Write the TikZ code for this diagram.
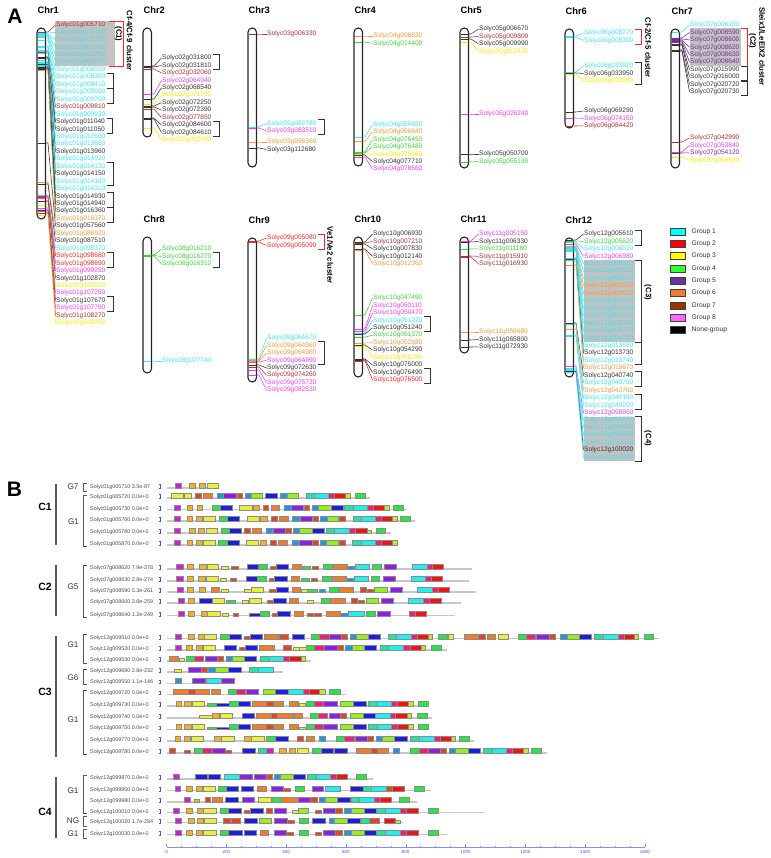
\documentclass[tikz,border=0pt]{standalone}
\usepackage{fontspec}
\setmainfont{Liberation Sans}
\usetikzlibrary{arrows.meta}
% group colours (panel A labels and bands)
\definecolor{Lc}{HTML}{3EE3F2}
\definecolor{Lr}{HTML}{F0282D}
\definecolor{Ly}{HTML}{F0EE00}
\definecolor{Lg}{HTML}{3CD23C}
\definecolor{Lp}{HTML}{7A2C98}
\definecolor{Lo}{HTML}{F5963C}
\definecolor{Lb}{HTML}{A83232}
\definecolor{Lm}{HTML}{EE3CEE}
\definecolor{Lk}{HTML}{333333}
% legend fills
\definecolor{kC}{HTML}{00FFFF}
\definecolor{kR}{HTML}{FF0000}
\definecolor{kY}{HTML}{FFFF00}
\definecolor{kG}{HTML}{33FF33}
\definecolor{kP}{HTML}{7030A0}
\definecolor{kO}{HTML}{F07D32}
\definecolor{kB}{HTML}{993300}
\definecolor{kM}{HTML}{FF66FF}
\definecolor{kK}{HTML}{000000}
% motif colours (panel B)
\definecolor{mMg}{HTML}{D21ED2}
\definecolor{mGo}{HTML}{F2B41E}
\definecolor{mYe}{HTML}{E8F03C}
\definecolor{mRo}{HTML}{E2461E}
\definecolor{mOr}{HTML}{F07D28}
\definecolor{mSb}{HTML}{1E96E1}
\definecolor{mPu}{HTML}{8C1EE6}
\definecolor{mBl}{HTML}{1E1EDC}
\definecolor{mLg}{HTML}{96F01E}
\definecolor{mGr}{HTML}{28E646}
\definecolor{mCy}{HTML}{1EF0F0}
\definecolor{mTe}{HTML}{1EE6A5}
\definecolor{mPk}{HTML}{F01E78}
\definecolor{mRe}{HTML}{F01414}
\definecolor{mYg}{HTML}{C8E628}
\def\mh{5}
\tikzset{
  chrbox/.style={draw=black!85, line width=1.1pt, fill=white, rounded corners=4.2pt},
  band/.style={line width=0.9pt},
  link/.style={line width=0.55pt},
  gene/.style={font=\fontsize{6.6}{7}\selectfont, anchor=west, inner sep=0.5pt},
  chrtitle/.style={font=\fontsize{9.3}{10}\selectfont\bfseries, anchor=west, inner sep=0pt},
  brk/.style={line width=0.8pt},
  hilite/.style={fill=black!24},
  clust/.style={font=\fontsize{7.8}{8}\selectfont\bfseries, rotate=-90, inner sep=0pt},
  panel/.style={font=\fontsize{21}{22}\selectfont\bfseries, inner sep=0pt},
  legbox/.style={draw=black!75, line width=0.7pt, minimum width=15pt, minimum height=7pt, inner sep=0pt},
  legtext/.style={font=\fontsize{6.7}{7}\selectfont, text=black!80, anchor=west, inner sep=0pt},
  pname/.style={font=\fontsize{5.4}{6}\selectfont, text=black!70, anchor=west, inner sep=0pt},
  strand/.style={draw=blue!70, line width=0.5pt, {Bar[width=1.6pt]}-{Bar[width=1.6pt]}},
  pline/.style={draw=black!22, line width=1.1pt},
  motif/.style={draw=black!45, line width=0.35pt},
  halfbox/.style={/utils/exec={\def\mh{2.6}}},
  mg/.style={fill=mMg}, go/.style={fill=mGo}, ye/.style={fill=mYe},
  ro/.style={fill=mRo}, or/.style={fill=mOr}, sb/.style={fill=mSb},
  pu/.style={fill=mPu}, bl/.style={fill=mBl}, lg/.style={fill=mLg},
  gr/.style={fill=mGr}, cy/.style={fill=mCy}, te/.style={fill=mTe},
  pk/.style={fill=mPk}, re/.style={fill=mRe}, yg/.style={fill=mYg},
  yeS/.style={ye,halfbox}, roS/.style={ro,halfbox}, goS/.style={go,halfbox},
  grS/.style={gr,halfbox}, sbS/.style={sb,halfbox}, blS/.style={bl,halfbox},
  ygS/.style={yg,halfbox},
  clu/.style={font=\fontsize{10.5}{11}\selectfont\bfseries, inner sep=0pt},
  cline/.style={draw=black!65, line width=1.4pt},
  grp/.style={font=\fontsize{8.2}{9}\selectfont, text=black!80, inner sep=0pt},
  gbrk/.style={draw=black!65, line width=0.7pt},
  ruler/.style={draw=blue!45, line width=0.4pt},
  rlab/.style={font=\fontsize{4.5}{5}\selectfont, text=blue!70, inner sep=0pt}
}
% chromosome: number, left x, top y, bottom y
\newcommand\chrbar[4]{%
  \node[chrtitle] (chr#1) at (#2+0.5,#3-17.5) {Chr#1};
  \path[chrbox] (#2,#3) rectangle (#2+8.5,#4);}
% genes: bar left x, first label y, list band y/id/colour
\newcommand\genes[3]{%
  \foreach \by/\g/\col [count=\i from 0] in {#3}{%
    \pgfmathsetmacro\ly{#2+7.45*\i}
    \draw[band,color=L\col] (#1+0.9,\by) -- (#1+7.6,\by);
    \coordinate (b\g) at (#1+8.5,\by);
    \node[gene,text=L\col] (s\g) at (#1+18.5,\ly) {Solyc\g};
    \draw[link,color=L\col] (b\g) -- ++(2.5,0) -- (s\g.west);
  }}
\newcommand\pairbrk[3][Lk]{\draw[brk,draw=#1] ([xshift=1pt]s#2.north east) -- ++(6,0) |- ([xshift=1pt]s#3.south east);}
% motif row: id, base y, label, end x, motifs
\newcommand\prow[5]{%
  \node[pname] (r#1) at (90,#2-1) {#3};
  \draw[strand] (160,#2-3.8) -- (160,#2+0.4);
  \draw[pline] (167,#2) -- (#4,#2);
  \foreach \xa/\xb/\mc in {#5}{\draw[motif,\mc] (\xa,#2) rectangle (\xb,#2-\mh);}}
\newcommand\gbr[2]{\draw[gbrk] (86.5,#1) -- (83,#1) -- (83,#2) -- (86.5,#2);}

\begin{document}
\begin{tikzpicture}[x=1pt,y=-1pt]
\useasboundingbox (0,0) rectangle (770,858);
\node[panel] (pA) at (15,16.5) {A};

% clusters shaded
\fill[hilite] (55,21.3) rectangle (115,66);
\fill[hilite] (689.5,28.3) rectangle (741,65.8);
\fill[hilite] (583.5,260) rectangle (635,342);
\fill[hilite] (583.5,416.5) rectangle (635,461.3);

\chrbar{1}{37}{28}{219}
\chrbar{2}{143}{28}{137}
\chrbar{3}{248}{28}{167}
\chrbar{4}{354}{28}{166}
\chrbar{5}{460}{28}{168}
\chrbar{6}{565}{29}{128}
\chrbar{7}{671}{29}{168}
\chrbar{8}{143}{237}{373}
\chrbar{9}{248}{238}{382}
\chrbar{10}{354}{237}{377}
\chrbar{11}{460}{237}{353}
\chrbar{12}{565}{238}{377}

% Chr1
\genes{37}{25}{32/01g005710/b,33/01g005720/c,34/01g005730/c,35/01g005760/c,36/01g005780/c,37/01g005870/c,
  40/01g006550/c,46/01g008390/c,47/01g008410/c,50/01g009690/c,51/01g009700/c,52/01g009810/b,53/01g009930/c,
  57/01g011040/k,58/01g011050/k,60/01g012690/c,62/01g013880/c,63/01g013960/k,63.5/01g014020/c,64/01g014130/c,
  64.5/01g014150/k,65/01g014160/c,66/01g014310/c,67/01g014930/k,68/01g014940/k,69/01g016360/k,70/01g016370/o,
  143/01g057560/k,182/01g086920/o,184/01g087510/k,195/01g098370/c,196/01g098680/r,197/01g098690/r,
  198/01g099250/m,201/01g102870/k,205/01g106500/y,208/01g107250/m,210/01g107670/k,211/01g107790/m,
  213/01g108270/b,215/01g108850/y}
% Chr2
\genes{143}{58}{66/02g031800/k,67/02g031810/k,69/02g032060/b,94/02g064940/m,99/02g068540/k,104/02g071790/y,
  106/02g072250/k,107/02g072390/k,109/02g077850/b,118/02g084600/k,119/02g084610/k,128/02g092040/y}
% Chr3
\genes{248}{34}{34/03g006330/b}
\genes{248}{123.3}{127/03g082780/c,128/03g083510/m}
\genes{248}{142}{142/03g098360/o,148/03g112680/k}
% Chr4
\genes{354}{36}{36/04g008830/o,42/04g014400/g}
\genes{354}{124.5}{137/04g054450/c,141/04g056640/o,152/04g076450/g,153/04g076480/g,154/04g076960/y,
  155/04g077710/k,157/04g078560/m}
% Chr5
\genes{460}{29}{34/05g006670/k,37/05g009800/b,39/05g009990/k,42/05g012430/y}
\genes{460}{114}{114/05g026240/m}
\genes{460}{154}{154/05g050700/k,162/05g055190/g}
% Chr6
\genes{565}{33}{36/06g008270/c,37/06g008300/c}
\genes{565}{66}{72/06g033920/c,73/06g033950/k,74/06g033960/y}
\genes{565}{111}{112/06g069290/k,118/06g074150/m,126/06g084420/b}
% Chr7
\genes{671}{25}{32/07g006150/c,38/07g008590/p,39/07g008600/p,40/07g008620/p,41/07g008630/p,42/07g008640/p,
  44/07g015990/k,45/07g016000/k,50/07g020720/k,51/07g020730/k}
\genes{671}{138}{142/07g042990/b,152/07g053840/m,153/07g054120/p,157/07g056820/y}
% Chr8
\genes{143}{249}{255/08g016210/g,255.5/08g016270/g,256/08g016310/g}
\genes{143}{361}{361/08g077740/c}
% Chr9
\genes{248}{238}{241/09g005080/r,242/09g005090/r}
\genes{248}{338}{359/09g064670/c,360/09g064960/o,361/09g064980/o,362/09g064990/m,365/09g072630/k,
  367/09g074260/b,370/09g075730/m,375/09g082530/m}
% Chr10
\genes{354}{234}{242/10g006930/k,243/10g007210/b,244/10g007830/k,249/10g012140/k,250/10g012360/o}
\genes{354}{298}{315/10g047490/g,329/10g050110/m,331/10g050470/m,333/10g051220/c,334/10g051240/k,
  337/10g051370/g,343/10g052880/o,345/10g054290/k,346/10g055290/y,359/10g075000/k,360/10g076490/k,
  361/10g076500/r}
% Chr11
\genes{460}{234}{241/11g005150/m,242/11g006330/k,249/11g011180/g,256/11g015910/b,257/11g016930/b}
\genes{460}{332}{332/11g056680/o,340/11g065800/k,347/11g072930/k}
% Chr12
\genes{565}{234}{240/12g005610/k,241/12g005620/g,242/12g006020/c,244/12g006980/m,246/12g009510/c,
  246.5/12g009520/c,247/12g009530/c,247.5/12g009550/o,248/12g009690/o,248.5/12g009720/c,249/12g009730/c,
  249.5/12g009740/c,250/12g009750/c,250.5/12g009770/c,251/12g009780/c,258/12g013680/c,259/12g013730/k,
  260/12g013740/c,265/12g019670/o,323/12g040740/k,324/12g040750/c,329/12g042760/o,335/12g049190/c,
  336/12g049200/c,366/12g058950/m,368/12g099870/c,369/12g099950/c,370/12g099980/c,371/12g100010/c,
  371.5/12g100020/k,372/12g100030/c}

% tandem pairs
\pairbrk{01g008390}{01g008410} \pairbrk{01g009690}{01g009700}
\pairbrk{01g011040}{01g011050} \pairbrk{01g014130}{01g014160}
\pairbrk{01g014930}{01g014940} \pairbrk{01g016360}{01g016370}
\pairbrk{01g098680}{01g098690} \pairbrk{01g107670}{01g107790}
\pairbrk{02g031800}{02g031810} \pairbrk{02g084600}{02g084610}
\pairbrk{03g082780}{03g083510}
\pairbrk[Lr]{06g008270}{06g008300} \pairbrk{06g033920}{06g033960}
\pairbrk[Lr]{07g008590}{07g008640} \pairbrk{07g015990}{07g016000}
\pairbrk{07g020720}{07g020730}
\pairbrk{08g016270}{08g016310}
\pairbrk[Lr]{09g005080}{09g005090} \pairbrk{09g064960}{09g064990}
\pairbrk{10g051220}{10g051240} \pairbrk{10g076490}{10g076500}
\pairbrk{12g005610}{12g005620} \pairbrk{12g009510}{12g009780}
\pairbrk{12g013680}{12g013740} \pairbrk{12g040740}{12g040750}
\pairbrk{12g049190}{12g049200} \pairbrk{12g099870}{12g100030}
\draw[brk,draw=Lr] ([xshift=3pt]s01g005710.north east) -- ++(14,0) |- ([xshift=3pt]s01g005870.south east);

% cluster names
\node[clust] (cc1) at (118.5,34) {(C1)};
\node[clust] (cl1) at (129.5,40.5) {Cf-4/Cf-9 cluster};
\node[clust] (cl2) at (648,47.5) {Cf-2/Cf-5 cluster};
\node[clust] (cc2) at (752.5,41) {(C2)};
\node[clust] (cl3) at (762,46.5) {Sleix1/LeEIX2 cluster};
\node[clust] (cl4) at (330,255) {Ve1/Ve2 cluster};
\node[clust] (cc3) at (648,292.5) {(C3)};
\node[clust] (cc4) at (648,438.5) {(C4)};

% legend
\foreach \kc/\kt [count=\i from 0] in {kC/Group 1,kR/Group 2,kY/Group 3,kG/Group 4,kP/Group 5,
  kO/Group 6,kB/Group 7,kM/Group 8,kK/None-group}{%
  \pgfmathsetmacro\yy{231.7+12.32*\i}
  \node[legbox,fill=\kc] (key\i) at (678.3,\yy) {};
  \node[legtext] (lab\i) at (691.5,\yy) {\kt};
}

% ---------------- panel B ----------------
\node[panel] (pB) at (14.5,489) {B};

\node[clu] (C1) at (45,507) {C1}; \draw[cline] (56,484) -- (56,545);
\node[clu] (C2) at (45,587) {C2}; \draw[cline] (56,565) -- (56,616);
\node[clu] (C3) at (45,692) {C3}; \draw[cline] (56,636) -- (56,757);
\node[clu] (C4) at (45,812) {C4}; \draw[cline] (56,777) -- (56,838);

\node[grp] (g1) at (73,487) {G7}; \gbr{483.5}{491}
\node[grp] (g2) at (73.5,521.7) {G1}; \gbr{495}{546.5}
\node[grp] (g3) at (73,587) {G5}; \gbr{565}{617}
\node[grp] (g4) at (73,645) {G1}; \gbr{634}{663}
\node[grp] (g5) at (73,678) {G6}; \gbr{669}{684}
\node[grp] (g6) at (73,720) {G1}; \gbr{690}{754}
\node[grp] (g7) at (73,791) {G1}; \gbr{775}{813}
\node[grp] (g8) at (73,821) {NG}; \gbr{816}{826}
\node[grp] (g9) at (73,834) {G1}; \gbr{829}{838}

\prow{1}{488}{Solyc01g005710 3.5e-87}{218}{175/181/mg,189/195/go,199/205/go,207/218/ye}
\prow{2}{498}{Solyc01g005720 0.0e+0}{370}{171/183/ye,184/191/ye,195/201/ro,203/212/or,217/223/sb,223/236/pu,
  237/242/ro,245/250/sb,251/262/lg,265/277/bl,280/286/sb,287/298/lg,306/314/te,314/328/cy,328/334/pk,334/345/re,
  345/350/yg,355/365/gr}
\prow{3}{509.7}{Solyc01g005730 0.0e+0}{407}{174/180/mg,187/192/go,197/202/go,212/220/gr,220/232/bl,239/252/ye,
  253/259/go,263/268/ro,271/279/or,284/291/sb,291/303/pu,304/309/ro,312/318/sb,318/331/lg,331/343/bl,344/353/te,
  353/367/cy,367/373/pk,373/384/re,384/389/yg,393/403/gr}
\prow{4}{521}{Solyc01g005760 0.0e+0}{415}{174/180/mg,187/192/go,196/202/go,203/215/ye,219/227/gr,227/239/bl,
  247/259/ye,260/267/go,271/277/ro,279/288/or,292/299/sb,300/312/pu,313/318/ro,320/327/sb,327/338/lg,339/345/ro,
  353/361/te,361/375/cy,375/381/pk,381/392/re,392/397/yg,400/410/gr}
\prow{5}{533}{Solyc01g005780 0.0e+0}{391}{174/180/mg,189/195/go,198/204/go,206/217/ye,221/229/gr,229/241/bl,
  244/250/ro,252/261/or,266/272/sb,273/285/pu,285/291/ro,293/299/sb,299/312/lg,312/324/bl,326/334/te,334/349/cy,
  349/355/pk,355/367/re,367/371/ygS,376/385/gr}
\prow{6}{545}{Solyc01g005870 0.0e+0}{398}{174/180/mg,187/192/go,196/202/go,203/215/ye,218/227/gr,227/239/bl,
  246/258/ye,260/266/go,270/276/ro,278/287/or,292/298/sb,299/312/pu,312/318/ro,320/326/sb,326/338/lg,339/345/ro,
  352/361/te,361/375/cy,375/381/pk,381/392/re,392/397/yg}

\prow{7}{569}{Solyc07g008620 7.9e-278}{472}{176/183/mg,187/193/go,199/206/go,207/218/ye,221/228/yeS,231/238/roS,
  247/258/bl,259/267/gr,270/276/roS,276/288/bl,292/301/or,302/310/grS,312/318/roS,323/332/gr,333/347/or,
  347/354/sbS,355/369/cy,372/381/gr,384/396/pu,412/427/cy,427/432/pk,432/443/re}
\prow{8}{581}{Solyc07g008630 2.8e-274}{469}{176/183/mg,187/193/go,198/205/go,206/218/ye,220/226/yeS,230/236/roS,
  246/257/bl,257/266/gr,269/274/roS,274/287/bl,291/299/or,301/309/grS,311/317/roS,322/331/gr,332/346/or,
  346/353/sbS,354/368/cy,371/379/gr,383/395/pu,411/425/cy,425/431/pk,431/442/re}
\prow{9}{592}{Solyc07g008590 5.3e-261}{476}{177/183/mg,187/193/go,199/205/go,211/219/or,221/228/yeS,244/251/yeS,
  251/263/ye,269/276/roS,276/288/bl,292/300/or,301/307/yeS,307/317/grS,319/325/sbS,329/338/gr,339/353/or,
  360/366/ro,367/373/roS,374/387/lg,390/402/pu,417/432/cy,432/438/pk,438/449/re}
\prow{10}{603}{Solyc07g008600 3.6e-259}{461}{178/184/mg,188/194/go,199/212/bl,212/224/ye,226/235/grS,242/248/yeS,
  249/261/ye,267/273/roS,273/286/bl,289/298/or,307/313/yeS,321/329/gr,330/345/or,351/357/ro,358/364/roS,
  366/378/lg,381/393/pu,408/423/cy,423/429/pk,429/441/re}
\prow{11}{615.7}{Solyc07g008640 1.2e-249}{455}{178/184/mg,188/194/go,201/207/go,207/220/ye,222/228/yeS,233/238/roS,
  249/260/blS,260/269/gr,272/277/roS,277/290/bl,294/303/or,307/313/roS,314/321/roS,326/340/or,340/348/sbS,
  348/364/cy,366/375/gr,377/390/pu,409/415/pk,415/426/re}

\prow{12}{638.7}{Solyc12g009510 0.0e+0}{659}{175/181/mg,188/194/go,198/204/go,204/216/ye,220/229/gr,229/241/bl,
  244/250/roS,250/262/bl,264/278/or,279/288/ro,292/304/bl,311/319/gr,319/329/pk,329/341/pu,341/347/ro,350/356/sb,
  356/368/lg,368/380/bl,388/396/te,396/411/cy,411/417/pk,417/428/re,428/432/yg,438/447/gr,448/453/ye,464/478/or,
  478/485/ro,487/495/or,498/508/ye,518/526/gr,526/535/pk,536/549/pu,549/555/ro,560/567/sb,567/579/lg,579/591/bl,
  594/603/te,603/618/cy,618/624/pk,624/634/re,634/638/yg,644/653/gr}
\prow{13}{650}{Solyc12g009520 0.0e+0}{447}{175/181/mg,186/192/go,196/202/go,203/215/ye,224/236/bl,239/245/roS,
  245/257/bl,259/274/or,283/291/ro,293/299/yeS,299/306/yeS,306/314/gr,314/324/pk,324/337/pu,337/343/ro,345/352/sb,
  352/364/lg,364/376/bl,380/388/te,388/403/cy,403/410/pk,410/421/re,421/425/yg,431/441/gr}
\prow{14}{661}{Solyc12g009530 0.0e+0}{311}{169/178/or,179/184/yeS,186/194/gr,194/203/pk,205/217/pu,217/223/ro,
  226/232/sb,232/244/lg,244/256/bl,260/269/te,269/283/cy,283/289/pk,289/301/re,301/305/yg}
\prow{15}{672}{Solyc12g009690 2.8e-232}{283}{174/181/yeS,188/201/pu,201/207/ro,208/215/sb,215/228/lg,228/241/bl,
  249/258/te,258/273/cy}
\prow{16}{683.5}{Solyc12g009550 1.1e-146}{234}{175/181/sb,192/205/pu,206/221/cy,221/234/pu}
\prow{17}{694.5}{Solyc12g009720 0.0e+0}{346}{173/188/or,188/195/ro,195/209/or,211/220/or,228/236/gr,236/245/pk,
  246/258/pu,263/275/lg,275/288/bl,288/303/cy,303/309/pk,309/319/re,319/325/yg,329/340/gr}
\prow{18}{706}{Solyc12g009730 0.0e+0}{429}{176/181/go,184/191/go,192/204/ye,207/216/grS,216/229/blS,229/238/gr,
  238/250/bl,252/266/or,266/273/ro,274/283/or,289/298/or,299/305/yeS,306/314/gr,314/323/pk,323/337/pu,340/353/lg,
  353/366/bl,368/377/te,377/391/cy,391/397/pk,397/408/re,408/413/yg,418/428/gr}
\prow{19}{718}{Solyc12g009740 0.0e+0}{432}{199/212/yeS,212/219/go,220/232/ye,242/254/bl,256/271/or,271/277/ro,
  277/293/or,294/302/or,310/318/gr,318/327/pk,329/340/pu,340/346/ro,350/363/lg,363/375/bl,375/390/cy,390/395/pk,
  395/407/re,407/411/yg,417/427/gr}
\prow{20}{729.5}{Solyc12g009750 0.0e+0}{429}{176/181/go,184/191/go,192/204/ye,207/216/grS,216/229/blS,229/238/gr,
  238/250/bl,252/266/or,266/273/ro,274/283/or,289/298/or,299/305/yeS,306/314/gr,314/323/pk,323/337/pu,340/353/lg,
  353/366/bl,368/377/te,377/391/cy,391/397/pk,397/408/re,408/413/yg,418/428/gr}
\prow{21}{741}{Solyc12g009770 0.0e+0}{474}{175/180/go,184/190/go,191/203/ye,214/221/go,221/234/ye,244/251/go,
  251/264/ye,266/275/gr,275/288/bl,297/303/ro,306/314/or,319/325/sb,336/344/gr,344/354/pk,355/367/pu,367/373/ro,
  376/382/sb,382/394/lg,394/407/bl,410/419/te,419/434/cy,434/440/pk,440/451/re,451/455/yg,459/469/gr}
\prow{22}{753}{Solyc12g009780 0.0e+0}{547}{169/175/ro,184/190/roS,194/202/gr,202/212/pk,212/225/pu,225/231/roS,
  242/255/bl,258/266/te,266/273/mg,279/286/go,289/295/go,297/308/ye,312/321/gr,321/333/bl,334/347/bl,356/371/or,
  371/377/ro,378/388/or,393/399/sb,410/419/gr,419/428/pk,428/440/pu,440/446/ro,449/455/sb,455/468/lg,468/480/bl,
  483/492/te,492/506/cy,506/512/pk,512/523/re,523/528/yg,531/541/gr}

\prow{23}{779}{Solyc12g099870 0.0e+0}{373}{173/179/mg,195/207/bl,208/220/bl,224/239/cy,239/252/pu,254/266/pu,
  266/272/ro,274/280/sb,280/293/lg,293/305/bl,307/316/te,316/330/cy,330/336/pk,336/347/re,356/366/gr}
\prow{24}{790.7}{Solyc12g099950 0.0e+0}{431}{175/180/mg,186/192/go,196/202/go,203/215/ye,218/226/gr,226/238/bl,
  241/253/bl,257/266/or,271/283/pu,283/290/roS,295/304/gr,312/323/pu,325/340/cy,350/363/bl,363/371/te,371/386/cy,
  386/392/ro,392/404/re,414/424/gr}
\prow{25}{802}{Solyc12g099980 0.0e+0}{417}{184/190/mg,194/199/goS,205/210/ro,212/222/or,225/238/bl,242/254/pu,
  258/271/ye,272/281/gr,281/297/or,298/310/pu,310/317/ro,319/325/sb,325/337/lg,337/350/bl,351/359/te,359/374/cy,
  374/380/pk,380/391/re,399/409/gr}
\prow{26}{812.7}{Solyc12g100010 0.0e+0}{484}{173/179/mg,186/192/go,197/203/go,203/216/ye,220/228/gr,228/241/bl,
  244/250/roS,250/263/bl,266/272/ro,274/286/pu,292/298/yeS,298/308/lg,315/321/roS,323/335/pu,335/342/ro,344/351/sb,
  351/364/lg,364/376/bl,376/385/te,385/400/cy,400/406/pk,406/418/re,428/438/gr}
\prow{27}{822.7}{Solyc12g100020 1.7e-284}{403}{175/181/mg,188/194/go,197/203/go,204/216/ye,223/230/ro,231/240/ro,
  244/257/bl,259/271/lg,274/287/pu,287/294/roS,299/308/gr,312/325/bl,329/334/sb,334/347/lg,347/360/bl,361/369/te,
  369/379/ro,384/395/re,395/400/ygS}
\prow{28}{834.7}{Solyc12g100030 0.0e+0}{447}{175/181/mg,186/192/go,196/202/go,203/216/ye,220/228/gr,228/242/bl,
  244/256/bl,260/268/or,274/286/pu,286/293/roS,299/308/gr,315/321/roS,323/335/pu,335/342/ro,344/351/sb,351/364/lg,
  364/376/bl,376/385/te,385/400/cy,400/406/pk,406/418/re,428/438/gr}

% length scale
\draw[ruler] (166.5,847) -- (645,847);
\foreach \v in {50,100,...,1600}{\draw[ruler] (166.5+0.299*\v,847) -- ++(0,-1.2);}
\foreach \v in {0,200,...,1600}{%
  \draw[ruler] (166.5+0.299*\v,847) -- ++(0,-2.6);
  \node[rlab] (tk\v) at (166.5+0.299*\v,851.5) {\v};}
\end{tikzpicture}
\end{document}
